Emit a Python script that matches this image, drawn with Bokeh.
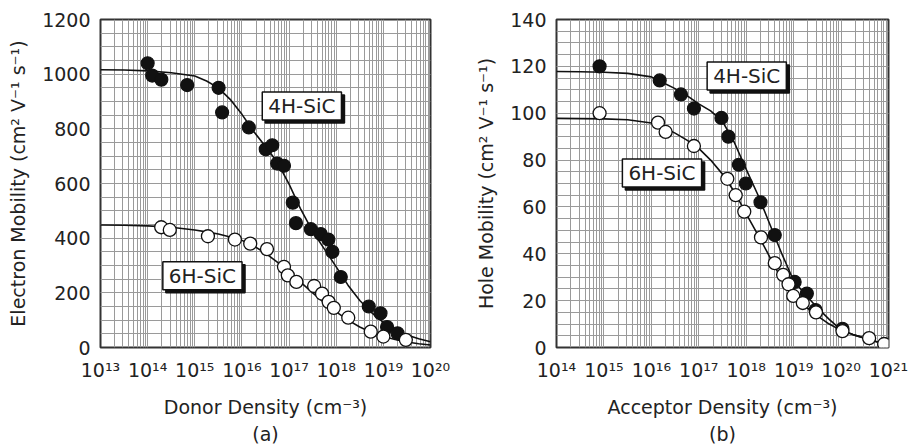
import numpy as np
from bokeh.plotting import figure
from bokeh.layouts import row
from bokeh.models import (Range1d, FixedTicker, SingleIntervalTicker,
                          CustomJSTickFormatter, Label, Title)
from bokeh.embed import file_html
from bokeh.resources import INLINE

# ---------------- Panel (a): electron mobility vs donor density ----------------
donor_4h_n = [1.0e14, 1.25e14, 1.95e14, 6.9e14, 3.2e15, 3.8e15, 1.4e16, 3.2e16,
              4.4e16, 5.6e16, 7.8e16, 1.2e17, 1.4e17, 2.9e17, 4.7e17, 6.8e17,
              8.3e17, 1.25e18, 4.9e18, 8.7e18, 1.2e19, 2.0e19]
donor_4h_mu = [1040, 995, 980, 960, 950, 860, 805, 725, 740, 673, 665, 530, 455,
               433, 415, 395, 350, 258, 150, 125, 75, 52]

donor_6h_n = [1.94e14, 2.95e14, 1.9e15, 7.1e15, 1.5e16, 3.4e16, 7.8e16, 9.4e16,
              1.43e17, 3.4e17, 5.0e17, 6.9e17, 8.9e17, 1.8e18, 5.4e18, 1.0e19, 3.0e19]
donor_6h_mu = [440, 430, 407, 395, 380, 360, 295, 264, 240, 225, 197, 167, 145,
               109, 58, 40, 28]

# fitted curves (log10 of density, mobility)
curve_a_logn = [13.0, 13.5, 14.0, 14.5, 15.0, 15.25, 15.5, 15.75, 16.0, 16.25,
                16.5, 16.75, 17.0, 17.25, 17.5, 17.75, 18.0, 18.25, 18.5, 18.75,
                19.0, 19.25, 19.5, 19.75, 20.0]
curve_a_4h = [1016, 1015, 1012, 1005, 993, 975, 950, 908, 853, 790, 735, 678, 598,
              505, 425, 360, 295, 228, 172, 128, 92, 66, 46, 32, 21]
curve_a_6h = [448, 447, 445, 440, 430, 423, 415, 404, 392, 372, 345, 312, 275,
              238, 200, 163, 130, 100, 75, 55, 40, 29, 20, 14, 9]

# ---------------- Panel (b): hole mobility vs acceptor density ----------------
acc_4h_n = [8.1e14, 1.5e16, 4.2e16, 7.9e16, 3.0e17, 4.2e17, 7.0e17, 9.8e17,
            2.0e18, 4.0e18, 1.05e19, 1.9e19, 2.9e19, 1.07e20]
acc_4h_mu = [120, 114, 108, 102, 98, 90, 78, 70, 62, 48, 28, 23, 16, 8]

acc_6h_n = [8.1e14, 1.38e16, 2.0e16, 7.9e16, 4.0e17, 6.0e17, 9.1e17, 2.05e18,
            4.0e18, 6.0e18, 7.8e18, 9.8e18, 1.56e19, 2.96e19, 1.07e20, 3.9e20, 8.1e20]
acc_6h_mu = [100, 96, 92, 86, 72, 65, 58, 47, 36, 31, 27, 22, 19, 15, 7, 4, 1.5]

curve_b_logn = [14.0, 14.5, 15.0, 15.5, 16.0, 16.25, 16.5, 16.75, 17.0, 17.25,
                17.5, 17.75, 18.0, 18.25, 18.5, 18.75, 19.0, 19.25, 19.5, 19.75,
                20.0, 20.25, 20.5, 20.75, 21.0]
curve_b_4h = [117.8, 117.7, 117.5, 117.0, 115.5, 113.0, 110.5, 107.5, 104.0, 101.0,
              96.5, 87.5, 76.0, 65.0, 52.5, 40.0, 28.5, 22.5, 17.0, 12.0,
              7.5, 5.5, 4.0, 2.5, 1.0]
curve_b_6h = [97.8, 97.7, 97.6, 97.2, 95.8, 94.0, 91.5, 88.5, 85.0, 80.0,
              74.0, 66.5, 57.0, 48.0, 38.5, 29.0, 22.5, 17.5, 13.5, 10.0,
              7.3, 5.5, 4.0, 2.5, 1.0]

# x tick labels
a_exps = [13, 14, 15, 16, 17, 18, 19, 20]
a_labels = ["10¹³", "10¹⁴", "10¹⁵", "10¹⁶", "10¹⁷", "10¹⁸", "10¹⁹", "10²⁰"]
b_exps = [14, 15, 16, 17, 18, 19, 20, 21]
b_labels = ["10¹⁴", "10¹⁵", "10¹⁶", "10¹⁷", "10¹⁸", "10¹⁹", "10²⁰", "10²¹"]

FONT = "DejaVu Sans"
TXT = "#222222"
GRID = "#9a9a9a"
INK = "#111111"


def make_panel(exps, labels, ymax, ystep, ylabel, xlabel, caption,
               width, min_left, min_right):
    p = figure(width=width, height=444, x_axis_type="log",
               x_range=Range1d(10.0 ** exps[0], 10.0 ** exps[-1]),
               y_range=Range1d(0, ymax),
               output_backend="svg", toolbar_location=None,
               min_border_left=min_left, min_border_right=min_right,
               min_border_top=19, min_border_bottom=95)
    majors = [10.0 ** e for e in exps]
    minors = [k * 10.0 ** e for e in exps[:-1] for k in range(2, 10)]
    xt = FixedTicker(ticks=majors, minor_ticks=minors)
    p.xaxis.ticker = xt
    p.xgrid.ticker = xt
    p.xaxis.formatter = CustomJSTickFormatter(
        args=dict(exps=exps, labels=labels),
        code="const e = Math.round(Math.log10(tick)); const i = exps.indexOf(e);"
             " return i >= 0 ? labels[i] : '';")
    p.yaxis.ticker = SingleIntervalTicker(interval=ystep, num_minor_ticks=4)
    for ax in (p.xaxis[0], p.yaxis[0]):
        ax.major_tick_line_color = None
        ax.minor_tick_line_color = None
        ax.major_tick_out = 0
        ax.minor_tick_out = 0
        ax.major_tick_in = 0
        ax.minor_tick_in = 0
        ax.axis_line_color = None
        ax.major_label_text_font = FONT
        ax.major_label_text_font_size = "19px"
        ax.major_label_text_color = TXT
        ax.axis_label_text_font = FONT
        ax.axis_label_text_font_size = "19px"
        ax.axis_label_text_font_style = "normal"
        ax.axis_label_text_color = TXT
    p.xaxis.major_label_standoff = 11
    p.xaxis.axis_label_standoff = 12
    p.yaxis.major_label_standoff = 10
    p.yaxis.axis_label_standoff = 10
    p.xaxis.axis_label = xlabel
    p.yaxis.axis_label = ylabel
    for g in (p.xgrid, p.ygrid):
        g.grid_line_color = GRID
        g.grid_line_width = 1
        g.minor_grid_line_color = GRID
        g.minor_grid_line_width = 1
    p.outline_line_color = "#333333"
    p.outline_line_width = 2
    p.background_fill_color = "white"
    p.border_fill_color = "white"
    cap = Title(text=caption, align="center", text_font=FONT, text_font_size="19px",
                text_font_style="normal", text_color=TXT, standoff=0)
    p.add_layout(cap, "below")
    return p


def box_label(p, x, y, text):
    common = dict(x=x, y=y, x_units="data", y_units="data", text=text,
                  text_font=FONT, text_font_size="20px", text_align="left",
                  text_baseline="top", padding=(6, 2), border_line_width=1.5)
    shadow = Label(text_color=INK, background_fill_color=INK,
                   border_line_color=INK, x_offset=3, y_offset=-3, **common)
    main = Label(text_color=TXT, background_fill_color="white",
                 border_line_color=INK, **common)
    p.add_layout(shadow)
    p.add_layout(main)


# Panel (a)
pa = make_panel(a_exps, a_labels, 1200, 200,
                "Electron Mobility (cm² V⁻¹ s⁻¹)", "Donor Density (cm⁻³)", "(a)",
                455, 100, 25)
ca_x = 10.0 ** np.array(curve_a_logn)
pa.line(ca_x, curve_a_4h, line_color=INK, line_width=1.6)
pa.line(ca_x, curve_a_6h, line_color=INK, line_width=1.6)
pa.scatter(donor_4h_n, donor_4h_mu, size=13, fill_color=INK,
           line_color=INK, line_width=1.2)
pa.scatter(donor_6h_n, donor_6h_mu, size=13, fill_color="white",
           line_color=INK, line_width=1.3)
box_label(pa, 2.7e16, 935, "4H-SiC")
box_label(pa, 2.1e14, 314, "6H-SiC")

# Panel (b)
pb = make_panel(b_exps, b_labels, 140, 20,
                "Hole Mobility (cm² V⁻¹ s⁻¹)", "Acceptor Density (cm⁻³)", "(b)",
                460, 101, 27)
cb_x = 10.0 ** np.array(curve_b_logn)
pb.line(cb_x, curve_b_4h, line_color=INK, line_width=1.6)
pb.line(cb_x, curve_b_6h, line_color=INK, line_width=1.6)
pb.scatter(acc_4h_n, acc_4h_mu, size=13, fill_color=INK,
           line_color=INK, line_width=1.2)
pb.scatter(acc_6h_n, acc_6h_mu, size=13, fill_color="white",
           line_color=INK, line_width=1.3)
box_label(pb, 1.5e17, 121.9, "4H-SiC")
box_label(pb, 2.45e15, 80.5, "6H-SiC")

layout = row(pa, pb)
open("out.html", "w").write(file_html(layout, INLINE))
